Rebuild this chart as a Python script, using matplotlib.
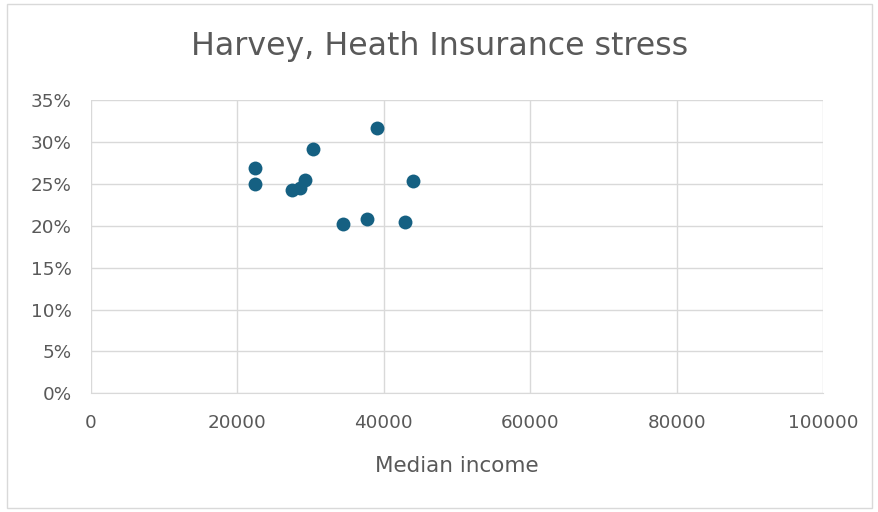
import matplotlib.pyplot as plt
from matplotlib.patches import Rectangle
from matplotlib.ticker import PercentFormatter

# median household income vs share of households under insurance stress
income = [39030, 30330, 22400, 22400, 27410, 28550, 29230, 43940, 34470, 37660, 42900]
stress = [0.317, 0.291, 0.269, 0.250, 0.243, 0.245, 0.255, 0.253, 0.2025, 0.208, 0.205]

x_ticks = [0, 20000, 40000, 60000, 80000, 100000]
y_ticks = [0, 0.05, 0.10, 0.15, 0.20, 0.25, 0.30, 0.35]

plt.rcParams['font.family'] = ['DejaVu Sans']
text_grey = '#595959'
grid_grey = '#d9d9d9'

fig = plt.figure(figsize=(8.79, 5.12), dpi=100)
fig.patches.append(Rectangle((0.008, 0.008), 0.984, 0.984, transform=fig.transFigure,
                             fill=False, edgecolor='#d9d9d9', linewidth=1))
ax = fig.add_axes([0.1035, 0.2318, 0.8328, 0.5729])

ax.scatter(income, stress, s=100, color='#156082', zorder=3, linewidths=0)

ax.set_xlim(0, 100000)
ax.set_ylim(0, 0.35)
ax.set_xticks(x_ticks)
ax.set_yticks(y_ticks)
ax.yaxis.set_major_formatter(PercentFormatter(1.0, decimals=0))
ax.grid(True, color=grid_grey, linewidth=1)
ax.set_axisbelow(True)
for side in ['top', 'right', 'left']:
    ax.spines[side].set_visible(False)
ax.spines['bottom'].set_color(grid_grey)
ax.tick_params(length=0, labelsize=13.2, colors=text_grey)
ax.tick_params(axis='y', pad=14)
ax.tick_params(axis='x', pad=15)

ax.set_xlabel('Median income', fontsize=15.5, color=text_grey, labelpad=17)
fig.text(0.5, 0.909, 'Harvey, Heath Insurance stress', fontsize=22.8, color=text_grey,
         ha='center', va='center')

fig.savefig('out.png', dpi=100)
